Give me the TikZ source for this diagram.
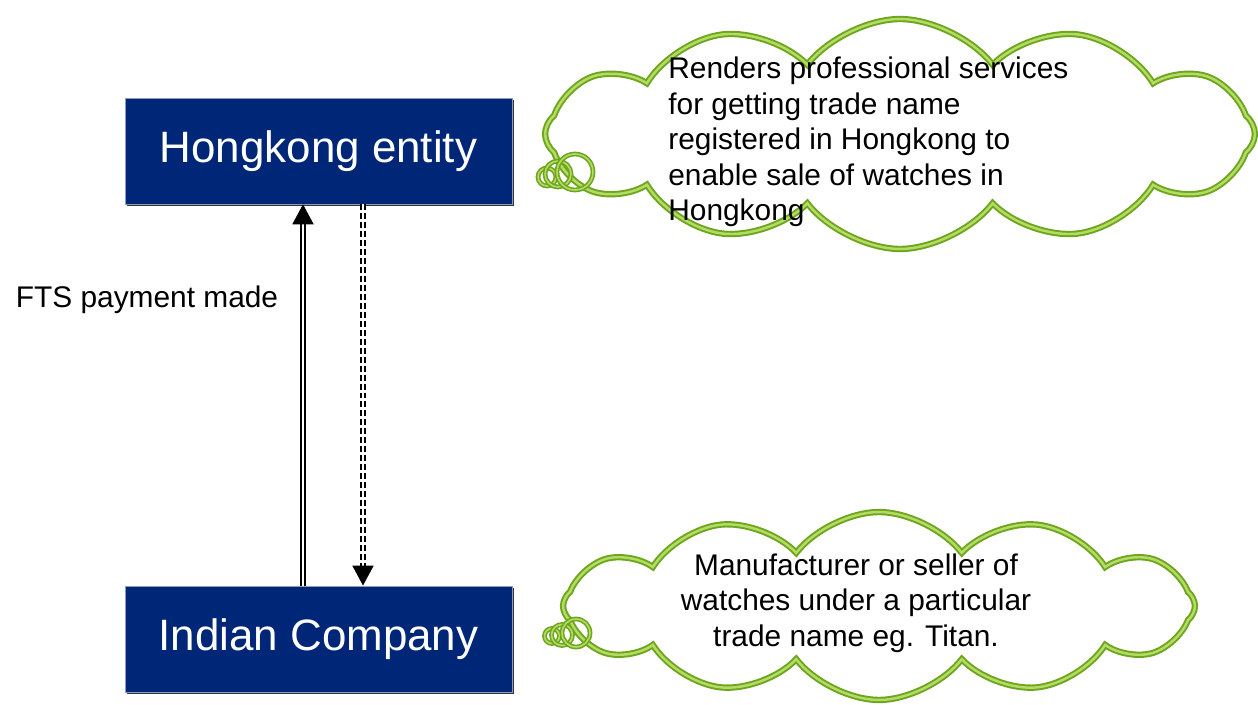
\documentclass[tikz,border=0pt]{standalone}
\usepackage{fontspec}
\setmainfont{Liberation Sans}
\usetikzlibrary{positioning,shapes.symbols,arrows.meta,shadows}
\definecolor{boxblue}{RGB}{0,38,119}
\definecolor{leaf}{RGB}{110,165,30}
\definecolor{leaflight}{RGB}{180,220,100}
\tikzstyle{ent}=[draw={rgb,255:red,140;green,155;blue,195}, fill=boxblue, text=white, minimum height=2.12cm, minimum width=7.74cm, font=\fontsize{25}{30}\selectfont, drop shadow={shadow xshift=0.04cm, shadow yshift=-0.04cm, fill=black, opacity=0.8}]
\tikzstyle{puff}=[cloud, cloud puffs=12, cloud puff arc=105, cloud ignores aspect, draw=leaf, line width=1.1pt, double=leaflight, double distance=1.4pt, fill=white, inner sep=0pt]
\tikzstyle{bubble}=[circle, draw=leaf, line width=0.9pt, double=leaflight, double distance=0.9pt, inner sep=0pt]
\tikzstyle{note}=[font=\fontsize{17}{20.2}\selectfont, inner sep=0pt]
\tikzstyle{flow}=[-{Triangle[width=0.42cm,length=0.4cm]}, double=white, line width=1.1pt, double distance=1.3pt]
\begin{document}
\begin{tikzpicture}[x=0.02cm,y=-0.02cm,node distance=2cm,auto]
\useasboundingbox (0,0) rectangle (1258,705);
  \node[ent] at (318.5,151) (hk) {Hongkong entity};
  \node[ent, below of = hk, node distance = 9.76cm] (ind) {Indian Company};

\draw[flow] ([xshift=-0.31cm]ind.north) -- ([xshift=-0.31cm]hk.south);
\draw[flow, dash pattern=on 3.4pt off 1.7pt] ([xshift=0.89cm]hk.south) -- ([xshift=0.89cm]ind.north);

\node[note] at (147,300) (fts) {FTS payment made};

% clouds
\node[puff, minimum width=14.2cm, minimum height=4.6cm] at (900,134) (hkcloud) {};
\node[bubble, minimum size=0.36cm] at (547,177) (hkb1) {};
\node[bubble, minimum size=0.52cm] at (558,174) (hkb2) {};
\node[bubble, minimum size=0.72cm] at (575,172) (hkb3) {};
\node[note, align=left, anchor=west] at (668,142) (hknote) {Renders professional services\\for getting trade name\\registered in Hongkong to\\enable sale of watches in\\Hongkong};

\node[puff, minimum width=12.64cm, minimum height=3.76cm] at (879,606) (indcloud) {};
\node[bubble, minimum size=0.3cm] at (552,636) (indb1) {};
\node[bubble, minimum size=0.42cm] at (562,635) (indb2) {};
\node[bubble, minimum size=0.56cm] at (576,633) (indb3) {};
\node[note, align=center] at (856,603) (indnote) {Manufacturer or seller of\\watches under a particular\\trade name eg. Titan.};
\end{tikzpicture}
\end{document}
